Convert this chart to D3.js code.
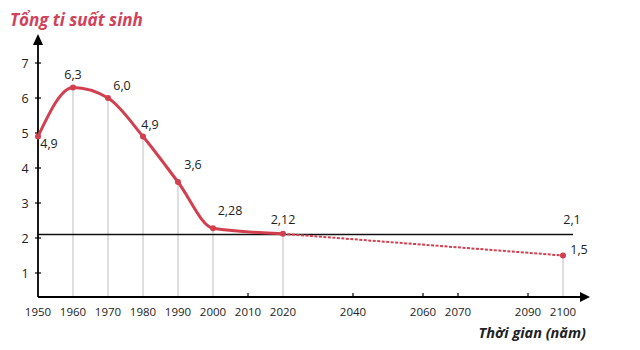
<!DOCTYPE html>
<html>
<head>
<meta charset="utf-8">
<script src="https://cdn.jsdelivr.net/npm/d3@7"></script>
<style>
  body { margin: 0; background: #fff; }
  svg { font-family: "Open Sans", "Noto Sans", sans-serif; }
</style>
</head>
<body>
<div id="chart"></div>
<script>
var years = [1950, 1960, 1970, 1980, 1990, 2000, 2020];
var rates = [4.9, 6.3, 6.0, 4.9, 3.6, 2.28, 2.12];
var labels = ["4,9", "6,3", "6,0", "4,9", "3,6", "2,28", "2,12"];
var forecastYears = [2020, 2100];
var forecastRates = [2.12, 1.5];
var forecastLabel = "1,5";
var replacementLevel = 2.1;
var replacementLabel = "2,1";
var xTicks = [1950, 1960, 1970, 1980, 1990, 2000, 2010, 2020, 2040, 2060, 2070, 2090, 2100];
var yTicks = [1, 2, 3, 4, 5, 6, 7];

var width = 640, height = 350;
var red = "#d23f4e";

var svg = d3.select("#chart").append("svg")
  .attr("width", width)
  .attr("height", height);

var x = d3.scaleLinear().domain([1950, 2100]).range([38, 563]);
var y = d3.scaleLinear().domain([0, 7]).range([308, 63]);
var axisY = 297;

// gray drop lines at data points
var dropYears = years.slice(1).concat([2100]);
var dropRates = rates.slice(1).concat([forecastRates[1]]);
svg.selectAll(".drop")
  .data(dropYears)
  .enter().append("line")
  .attr("x1", function(d) { return x(d); })
  .attr("x2", function(d) { return x(d); })
  .attr("y1", axisY)
  .attr("y2", function(d, i) { return y(dropRates[i]); })
  .attr("stroke", "#c9c9c9")
  .attr("stroke-width", 1.2);

// replacement level line
svg.append("line")
  .attr("x1", x(1950)).attr("x2", 573)
  .attr("y1", y(replacementLevel)).attr("y2", y(replacementLevel))
  .attr("stroke", "#111").attr("stroke-width", 1.3);

// axes
svg.append("line")
  .attr("x1", x(1950)).attr("x2", 582)
  .attr("y1", axisY).attr("y2", axisY)
  .attr("stroke", "#000").attr("stroke-width", 1.8);
svg.append("path")
  .attr("d", "M590," + axisY + "L580," + (axisY - 5) + "L580," + (axisY + 5) + "Z")
  .attr("fill", "#000");
svg.append("line")
  .attr("x1", x(1950)).attr("x2", x(1950))
  .attr("y1", axisY).attr("y2", 44)
  .attr("stroke", "#000").attr("stroke-width", 1.8);
svg.append("path")
  .attr("d", "M" + x(1950) + ",34L" + (x(1950) - 5) + ",45L" + (x(1950) + 5) + ",45Z")
  .attr("fill", "#000");

// x ticks (black marks only where no drop line)
svg.selectAll(".xtick")
  .data(xTicks.filter(function(d) { return dropYears.indexOf(d) < 0 && d !== 1950; }))
  .enter().append("line")
  .attr("x1", function(d) { return x(d); })
  .attr("x2", function(d) { return x(d); })
  .attr("y1", axisY - 4).attr("y2", axisY + 1)
  .attr("stroke", "#000").attr("stroke-width", 1.2);

svg.selectAll(".xlab")
  .data(xTicks)
  .enter().append("text")
  .attr("x", function(d) { return x(d); })
  .attr("y", 316)
  .attr("text-anchor", "middle")
  .attr("font-size", 11.5)
  .attr("fill", "#222")
  .text(function(d) { return d; });

// y ticks
svg.selectAll(".ytick")
  .data(yTicks)
  .enter().append("line")
  .attr("x1", x(1950) - 3).attr("x2", x(1950) + 3)
  .attr("y1", function(d) { return y(d); })
  .attr("y2", function(d) { return y(d); })
  .attr("stroke", "#000").attr("stroke-width", 1.2);

svg.selectAll(".ylab")
  .data(yTicks)
  .enter().append("text")
  .attr("x", 25)
  .attr("y", function(d) { return y(d) + 4.5; })
  .attr("text-anchor", "middle")
  .attr("font-size", 12.5)
  .attr("fill", "#222")
  .text(function(d) { return d; });

// solid curve
var pts = years.map(function(d, i) { return [d, rates[i]]; });
var line = d3.line()
  .x(function(d) { return x(d[0]); })
  .y(function(d) { return y(d[1]); })
  .curve(d3.curveMonotoneX);
svg.append("path")
  .attr("d", line(pts))
  .attr("fill", "none")
  .attr("stroke", red)
  .attr("stroke-width", 3);

// dashed forecast
var fpts = forecastYears.map(function(d, i) { return [d, forecastRates[i]]; });
svg.append("path")
  .attr("d", d3.line()
    .x(function(d) { return x(d[0]); })
    .y(function(d) { return y(d[1]); })(fpts))
  .attr("fill", "none")
  .attr("stroke", red)
  .attr("stroke-width", 2)
  .attr("stroke-dasharray", "3,1.5");

// markers
var allPts = pts.concat([fpts[1]]);
svg.selectAll(".dot")
  .data(allPts)
  .enter().append("circle")
  .attr("cx", function(d) { return x(d[0]); })
  .attr("cy", function(d) { return y(d[1]); })
  .attr("r", 3)
  .attr("fill", red);

// value labels
var labelOffsets = [[11, 7], [0, -13], [14, -12], [7, -12], [15, -17], [17, -17], [0, -14]];
svg.selectAll(".vlab")
  .data(pts)
  .enter().append("text")
  .attr("x", function(d, i) { return x(d[0]) + labelOffsets[i][0]; })
  .attr("y", function(d, i) { return y(d[1]) + labelOffsets[i][1] + 4; })
  .attr("text-anchor", "middle")
  .attr("font-size", 12.5)
  .attr("fill", "#222")
  .text(function(d, i) { return labels[i]; });

svg.append("text")
  .attr("x", x(2100) + 16).attr("y", y(forecastRates[1]) - 2)
  .attr("text-anchor", "middle")
  .attr("font-size", 12.5).attr("fill", "#222")
  .text(forecastLabel);
svg.append("text")
  .attr("x", x(2100) + 9).attr("y", y(replacementLevel) - 11)
  .attr("text-anchor", "middle")
  .attr("font-size", 12.5).attr("fill", "#222")
  .text(replacementLabel);

// titles
svg.append("text")
  .attr("x", 10).attr("y", 26)
  .attr("font-size", 17)
  .attr("font-weight", "bold")
  .attr("font-style", "italic")
  .attr("fill", "#d0415a")
  .text("Tổng ti suất sinh");

svg.append("text")
  .attr("x", 586).attr("y", 338)
  .attr("text-anchor", "end")
  .attr("font-size", 14.5)
  .attr("font-weight", "bold")
  .attr("font-style", "italic")
  .attr("fill", "#222")
  .text("Thời gian (năm)");
</script>
</body>
</html>
